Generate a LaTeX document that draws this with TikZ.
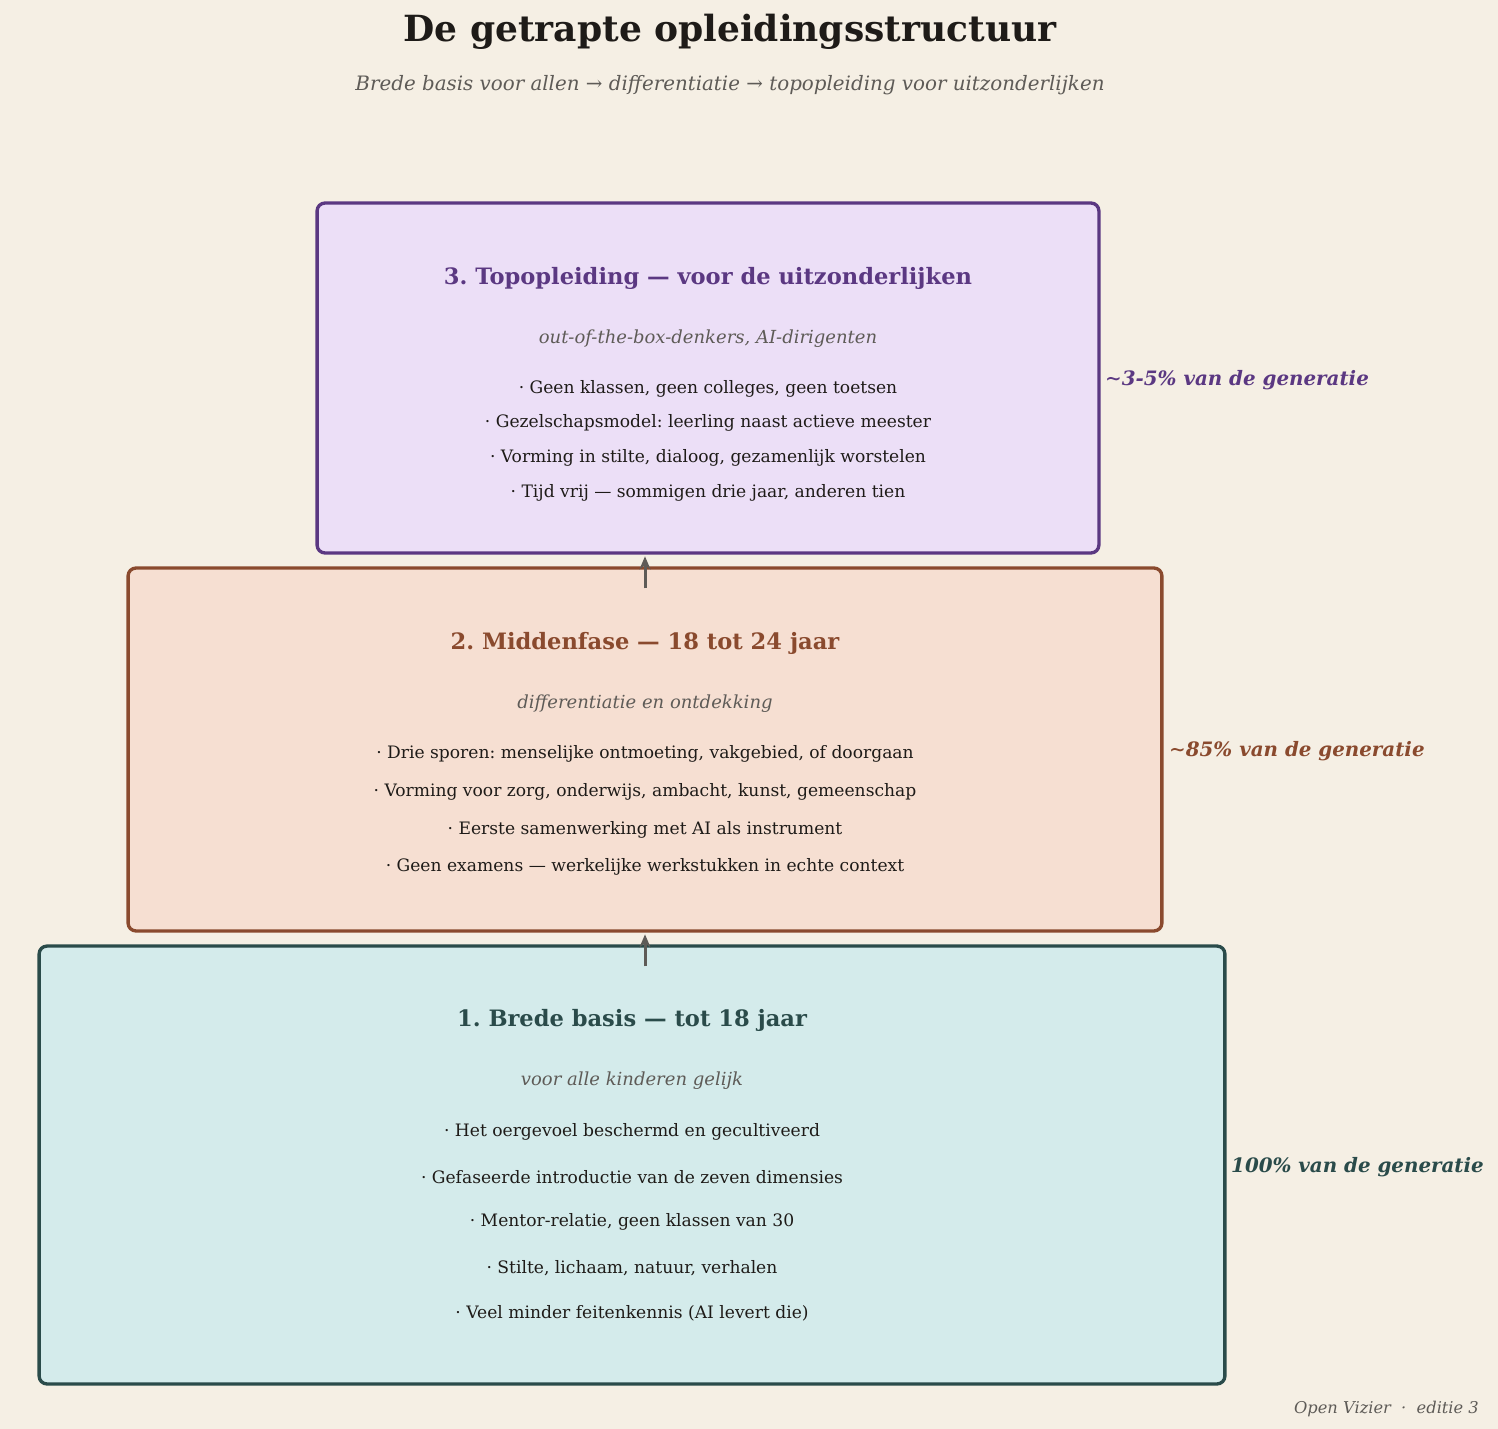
\documentclass[tikz,border=0pt]{standalone}
\usepackage{fontspec}
\setmainfont{DejaVu Serif}
\usetikzlibrary{arrows.meta,positioning,calc}
\definecolor{bgc}{HTML}{F5EFE4}
\definecolor{inkc}{HTML}{1E1B18}
\definecolor{greyc}{HTML}{5E5B57}
\definecolor{topdraw}{HTML}{5B3882}
\definecolor{topfill}{HTML}{ECDFF7}
\definecolor{middraw}{HTML}{8A4A2E}
\definecolor{midfill}{HTML}{F6DFD2}
\definecolor{basedraw}{HTML}{2A4B4A}
\definecolor{basefill}{HTML}{D4EBEB}
\newcommand{\fs}[1]{\fontsize{#1}{#1}\selectfont}
\frenchspacing
\tikzset{
  tier/.style={rounded corners=4.5pt, line width=1.9pt, inner sep=0pt},
  ttitle/.style={font=\fs{12.85}\bfseries, yshift=-0.05cm},
  tsub/.style={font=\fs{10.25}\itshape, text=greyc, yshift=-0.04cm},
  tbul/.style={font=\fs{9.75}, text=inkc, yshift=-0.04cm},
  share/.style={font=\fs{11.3}\bfseries\itshape, anchor=west, yshift=-0.04cm},
  uparr/.style={-{Stealth[length=2.6mm,width=2.2mm]}, greyc, line width=1.7pt},
}
\begin{document}
\begin{tikzpicture}[x=0.02cm, y=-0.02cm]
\fill[bgc] (0,0) rectangle (1498,1429);
\useasboundingbox (0,0) rectangle (1498,1429);
% header
\node[font=\fs{20.5}\bfseries, text=inkc] (head) at (730,32) {De getrapte opleidingsstructuur};
\node[font=\fs{11.3}\itshape, text=greyc] (subhead) at (730,85) {Brede basis voor allen → differentiatie → topopleiding voor uitzonderlijken};
% tier 3
\node[tier, draw=topdraw, fill=topfill, minimum width=15.64cm, minimum height=7cm] (top) at (708,378) {};
\node[ttitle, text=topdraw] (toptitle) at (708,276) {3. Topopleiding — voor de uitzonderlijken};
\node[tsub] (topsub) at (708,337) {out-of-the-box-denkers, AI-dirigenten};
\node[tbul] at (708,387) {· Geen klassen, geen colleges, geen toetsen};
\node[tbul] at (708,421) {· Gezelschapsmodel: leerling naast actieve meester};
\node[tbul] at (708,456) {· Vorming in stilte, dialoog, gezamenlijk worstelen};
\node[tbul] at (708,491) {· Tijd vrij — sommigen drie jaar, anderen tien};
\node[share, text=topdraw] (topshare) at (1099,378) {\char"223C 3-5\% van de generatie};
% tier 2
\node[tier, draw=middraw, fill=midfill, minimum width=20.68cm, minimum height=7.26cm] (mid) at (645,749.5) {};
\node[ttitle, text=middraw] (midtitle) at (645,641) {2. Middenfase — 18 tot 24 jaar};
\node[tsub] (midsub) at (645,702) {differentiatie en ontdekking};
\node[tbul] at (645,752) {· Drie sporen: menselijke ontmoeting, vakgebied, of doorgaan};
\node[tbul] at (645,790) {· Vorming voor zorg, onderwijs, ambacht, kunst, gemeenschap};
\node[tbul] at (645,828) {· Eerste samenwerking met AI als instrument};
\node[tbul] at (645,865) {· Geen examens — werkelijke werkstukken in echte context};
\node[share, text=middraw] (midshare) at (1163,749) {\char"223C 85\% van de generatie};
% tier 1
\node[tier, draw=basedraw, fill=basefill, minimum width=23.72cm, minimum height=8.76cm] (base) at (632,1165) {};
\node[ttitle, text=basedraw] (basetitle) at (632,1018) {1. Brede basis — tot 18 jaar};
\node[tsub] (basesub) at (632,1079) {voor alle kinderen gelijk};
\node[tbul] at (632,1130) {· Het oergevoel beschermd en gecultiveerd};
\node[tbul] at (632,1175) {· Gefaseerde introductie van de zeven dimensies};
\node[tbul] at (632,1220) {· Mentor-relatie, geen klassen van 30};
\node[tbul] at (632,1266) {· Stilte, lichaam, natuur, verhalen};
\node[tbul] at (632,1311) {· Veel minder feitenkennis (AI levert die)};
\node[share, text=basedraw] (baseshare) at (1225,1165) {100\% van de generatie};
% arrows
\draw[uparr] ($(mid.north)+(0,22)$) -- ($(mid.north)+(0,-10)$);
\draw[uparr] ($(base.north)+(13,22)$) -- ($(base.north)+(13,-10)$);
% footer
\node[font=\fs{9.25}\itshape, text=greyc, anchor=east] (foot) at (1485,1409) {Open Vizier \ · \ editie 3};
\end{tikzpicture}
\end{document}
